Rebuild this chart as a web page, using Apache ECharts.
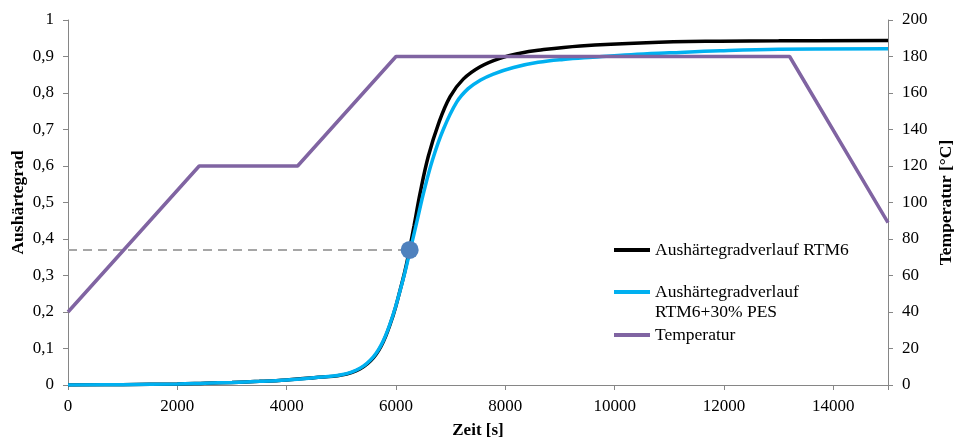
<!DOCTYPE html>
<html>
<head>
<meta charset="utf-8">
<script src="https://cdn.jsdelivr.net/npm/echarts@6/dist/echarts.min.js"></script>
<style>
  html, body { margin: 0; padding: 0; background: #fff; }
  #chart { width: 954px; height: 441px; }
</style>
</head>
<body>
<div id="chart"></div>
<script>
// Zeit [s] / Aushärtegrad für RTM6
const timeRTM6 = [0, 1000, 2000, 2500, 3000, 3500, 4000, 4500, 5000, 5340, 5590, 5770, 5950, 6070, 6165, 6245,
  6330, 6440, 6590, 6775, 6990, 7230, 7540, 7900, 8270, 8600, 9370, 10580, 11930, 13000, 15000];
const cureRTM6 = [0, 0.001, 0.003, 0.005, 0.007, 0.010, 0.014, 0.020, 0.027, 0.044, 0.075, 0.119, 0.192, 0.257, 0.313, 0.37,
  0.436, 0.525, 0.626, 0.715, 0.790, 0.838, 0.872, 0.895, 0.909, 0.917, 0.929, 0.938, 0.942, 0.943, 0.944];

// Zeit [s] / Aushärtegrad für RTM6+30% PES
const timePES = [0, 1000, 2000, 2500, 3000, 3500, 4000, 4500, 5000, 5340, 5590, 5770, 5950, 6070, 6165, 6260,
  6380, 6510, 6670, 6865, 7110, 7320, 7540, 7780, 8150, 8600, 9060, 9600, 10300, 11000, 11930, 13000, 15000];
const curePES = [0, 0.001, 0.003, 0.005, 0.007, 0.010, 0.014, 0.020, 0.028, 0.046, 0.078, 0.122, 0.194, 0.256, 0.31, 0.37,
  0.446, 0.53, 0.618, 0.700, 0.775, 0.812, 0.835, 0.852, 0.870, 0.884, 0.892, 0.898, 0.905, 0.910, 0.916, 0.920, 0.921];

// Temperaturprofil
const timeTemp = [0, 2400, 4200, 6000, 13200, 15000];
const temp = [40, 120, 120, 180, 180, 89];

// markierter Punkt und Hilfslinie
const markTime = 6250;
const markCure = 0.37;

const names = ['Aushärtegradverlauf RTM6', 'Aushärtegradverlauf RTM6+30% PES', 'Temperatur'];

const zip = (xs, ys) => xs.map((x, i) => [x, ys[i]]);
const FONT = 'Liberation Serif';
const AXIS_COLOR = '#868686';

const chart = echarts.init(document.getElementById('chart'), null, { renderer: 'canvas' });

const legendBase = {
  orient: 'vertical',
  left: 614,
  padding: 0,
  itemWidth: 36,
  itemHeight: 4,
  icon: 'rect',
  selectedMode: false,
  textStyle: { fontFamily: FONT, fontSize: 17.5, color: '#000', lineHeight: 20 }
};

chart.setOption({
  animation: false,
  backgroundColor: '#fff',
  textStyle: { fontFamily: FONT },
  grid: { left: 68, right: 66, top: 20, bottom: 56, containLabel: false, outerBoundsMode: 'none' },
  legend: [
    Object.assign({}, legendBase, { top: 240, data: [names[0]] }),
    // leere erste Zeile, damit das Symbol auf Höhe der ersten Textzeile sitzt
    Object.assign({}, legendBase, {
      top: 262,
      data: [names[1]],
      formatter: () => ' \nAushärtegradverlauf\nRTM6+30% PES'
    }),
    Object.assign({}, legendBase, { top: 325, data: [names[2]] })
  ],
  xAxis: {
    type: 'value',
    min: 0, max: 15000, interval: 2000,
    name: 'Zeit [s]',
    nameLocation: 'middle',
    nameGap: 37,
    nameMoveOverlap: false,
    nameTextStyle: { fontFamily: FONT, fontSize: 17, fontWeight: 'bold', color: '#000' },
    axisLine: { lineStyle: { color: AXIS_COLOR, width: 1 } },
    axisTick: { length: 5, lineStyle: { color: AXIS_COLOR } },
    axisLabel: {
      fontFamily: FONT, fontSize: 17, color: '#000', margin: 13,
      formatter: v => (v % 2000 === 0 ? String(v) : '')
    },
    splitLine: { show: false }
  },
  yAxis: [
    {
      type: 'value',
      min: 0, max: 1, interval: 0.1,
      name: 'Aushärtegrad',
      nameLocation: 'middle',
      nameRotate: 90,
      nameGap: 41,
      nameMoveOverlap: false,
      nameTextStyle: { fontFamily: FONT, fontSize: 17.5, fontWeight: 'bold', color: '#000' },
      axisLine: { show: true, lineStyle: { color: AXIS_COLOR, width: 1 } },
      axisTick: { show: true, length: 5, lineStyle: { color: AXIS_COLOR } },
      axisLabel: {
        fontFamily: FONT, fontSize: 17, color: '#000', margin: 14,
        formatter: v => {
          const r = Math.round(v * 10) / 10;
          if (r === 0) return '0';
          if (r === 1) return '1';
          return r.toFixed(1).replace('.', ',');
        }
      },
      splitLine: { show: false }
    },
    {
      type: 'value',
      position: 'right',
      min: 0, max: 200, interval: 20,
      name: 'Temperatur [°C]',
      nameLocation: 'middle',
      nameRotate: 90,
      nameGap: 49,
      nameMoveOverlap: false,
      nameTextStyle: { fontFamily: FONT, fontSize: 17.5, fontWeight: 'bold', color: '#000' },
      axisLine: { show: true, lineStyle: { color: AXIS_COLOR, width: 1 } },
      axisTick: { show: true, length: 5, lineStyle: { color: AXIS_COLOR } },
      axisLabel: { fontFamily: FONT, fontSize: 17, color: '#000', margin: 14 },
      splitLine: { show: false }
    }
  ],
  series: [
    {
      name: 'Hilfslinie',
      type: 'line',
      data: [[0, markCure], [markTime, markCure]],
      symbol: 'none',
      lineStyle: { color: '#A6A6A6', width: 2, type: [9, 6] },
      z: 1,
      silent: true
    },
    {
      name: names[0],
      type: 'line',
      data: zip(timeRTM6, cureRTM6),
      smooth: 0.4,
      symbol: 'none',
      itemStyle: { color: '#000000' },
      lineStyle: { color: '#000000', width: 3.5 },
      z: 2
    },
    {
      name: names[1],
      type: 'line',
      data: zip(timePES, curePES),
      smooth: 0.4,
      symbol: 'none',
      itemStyle: { color: '#00B0F0' },
      lineStyle: { color: '#00B0F0', width: 3.5 },
      z: 3
    },
    {
      name: names[2],
      type: 'line',
      yAxisIndex: 1,
      data: zip(timeTemp, temp),
      symbol: 'none',
      itemStyle: { color: '#8064A2' },
      lineStyle: { color: '#8064A2', width: 3.5 },
      z: 4
    },
    {
      name: 'Markierung',
      type: 'scatter',
      data: [[markTime, markCure]],
      symbol: 'circle',
      symbolSize: 18,
      itemStyle: { color: '#4F81BD', opacity: 1 },
      z: 5,
      silent: true
    }
  ]
});
</script>
</body>
</html>
